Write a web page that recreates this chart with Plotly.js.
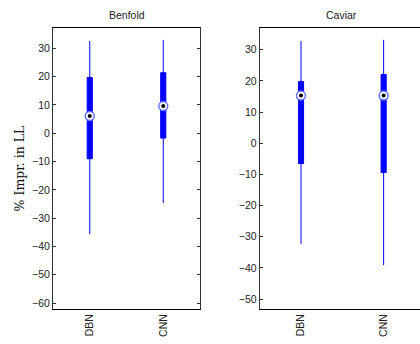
<!DOCTYPE html>
<html><head><meta charset="utf-8">
<script src="https://cdn.plot.ly/plotly-3.0.1.min.js"></script>
<style>html,body{margin:0;padding:0;background:#fff}#c{width:420px;height:344px}</style>
</head><body><div id="c"></div>
<script>
const categories = ["DBN", "CNN"];
const panels = ["Benfold", "Caviar"];
// Benfold
const benfoldLower = [-35.7, -24.6];
const benfoldQ1 = [-9.0, -1.7];
const benfoldMedian = [6.1, 9.6];
const benfoldQ3 = [19.7, 21.4];
const benfoldUpper = [32.6, 33.0];
// Caviar
const caviarLower = [-32.3, -39.1];
const caviarQ1 = [-6.5, -9.4];
const caviarMedian = [15.3, 15.3];
const caviarQ3 = [19.8, 22.1];
const caviarUpper = [32.8, 33.2];

const blue = '#0000ff';
function panelTraces(xa, ya, lo, q1, med, q3, up, w) {
  return [
    {type: 'box', x: categories, lowerfence: lo, q1: q1, median: med, q3: q3, upperfence: up,
     xaxis: xa, yaxis: ya, width: w, whiskerwidth: 0, fillcolor: blue,
     line: {color: blue, width: 1}, hoverinfo: 'skip', showlegend: false},
    {type: 'scatter', mode: 'markers', x: categories, y: med, xaxis: xa, yaxis: ya,
     marker: {symbol: 'circle', size: 9, color: '#ffffff', line: {color: '#6070ff', width: 1.5}},
     hoverinfo: 'skip', showlegend: false},
    {type: 'scatter', mode: 'markers', x: categories, y: med, xaxis: xa, yaxis: ya,
     marker: {symbol: 'circle', size: 4, color: '#000000'}, hoverinfo: 'skip', showlegend: false}
  ];
}
const data = [].concat(
  panelTraces('x', 'y', benfoldLower, benfoldQ1, benfoldMedian, benfoldQ3, benfoldUpper, 0.07),
  panelTraces('x2', 'y2', caviarLower, caviarQ1, caviarMedian, caviarQ3, caviarUpper, 0.062)
);
const tickFont = {family: 'Liberation Sans, Arial, sans-serif', size: 10.5, color: '#222'};
const yTop = 1 - 28/344, yBot = 1 - 309/344;
const layout = {
  width: 420, height: 344,
  margin: {l: 0, r: 0, t: 0, b: 0},
  paper_bgcolor: '#fff', plot_bgcolor: '#fff',
  xaxis: {domain: [53/420, 200/420], range: [-0.5, 1.5], type: 'category', anchor: 'y',
          showline: true, linecolor: '#000', linewidth: 1, mirror: true, ticks: '',
          tickangle: -90, tickfont: tickFont, showgrid: false, zeroline: false, fixedrange: true},
  yaxis: {domain: [yBot, yTop], range: [-62.1, 37.2], dtick: 10, anchor: 'x',
          showline: true, linecolor: '#333', linewidth: 1, mirror: 'ticks', ticks: 'inside',
          ticklen: 3, tickcolor: '#333', tickfont: tickFont, showgrid: false, zeroline: false,
          title: {text: '% Impr. in LL', font: {family: 'DejaVu Serif, serif', size: 12.5, color: '#111'}, standoff: 4},
          fixedrange: true},
  xaxis2: {domain: [259.7/420, 1], range: [-0.5, 1.44], type: 'category', anchor: 'y2',
          showline: true, linecolor: '#000', linewidth: 1, mirror: true, ticks: '',
          tickangle: -90, tickfont: tickFont, showgrid: false, zeroline: false, fixedrange: true},
  yaxis2: {domain: [yBot, yTop], range: [-53.2, 37.0], dtick: 10, anchor: 'x2',
          showline: true, linecolor: '#333', linewidth: 1, mirror: false, ticks: 'inside',
          ticklen: 3, tickcolor: '#333', tickfont: tickFont, showgrid: false, zeroline: false,
          fixedrange: true},
  annotations: [
    {text: panels[0], xref: 'paper', yref: 'paper', x: 126.5/420, y: 1 - 15/344, showarrow: false,
     font: {family: 'Liberation Sans, Arial, sans-serif', size: 10.5, color: '#222'}, xanchor: 'center', yanchor: 'middle'},
    {text: panels[1], xref: 'paper', yref: 'paper', x: 341/420, y: 1 - 15/344, showarrow: false,
     font: {family: 'Liberation Sans, Arial, sans-serif', size: 10.5, color: '#222'}, xanchor: 'center', yanchor: 'middle'}
  ]
};
Plotly.newPlot('c', data, layout, {staticPlot: true, displayModeBar: false});
</script></body></html>
